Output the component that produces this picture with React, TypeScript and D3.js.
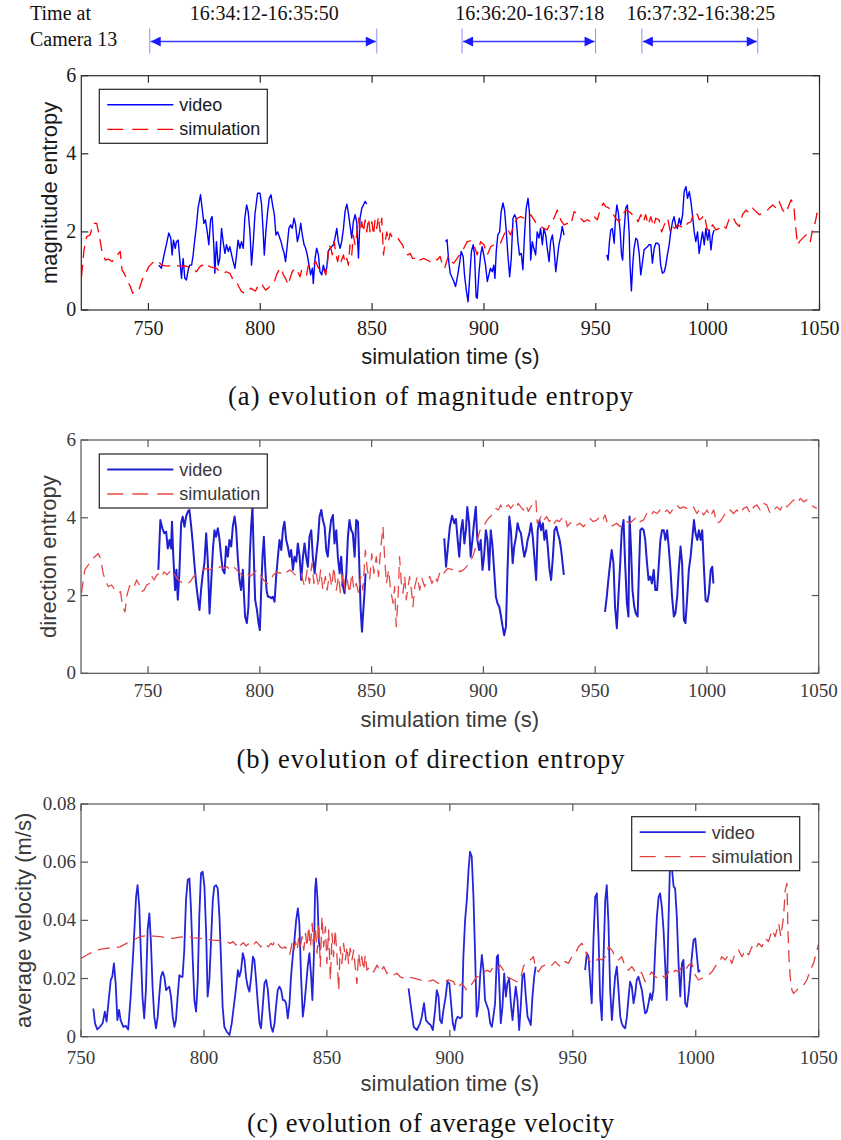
import * as d3 from 'd3';

type Pt = [number, number];

// ---- (a) magnitude entropy ----
const videoA1: Pt[] = [[754.6,1.15],[755.8,1.07],[757,1.41],[758,1.67],[759.1,1.97],[760,1.84],[760.6,1.41],[761.2,1.79],[762,1.58],[762.5,1.75],[763.3,1.79],[764,1.32],[764.8,0.81],[765.5,1.32],[766.3,0.81],[767,0.77],[767.8,1.03],[768.5,1.15],[769.3,1.15],[770,1.41],[770.7,1.79],[771.5,2.18],[772.2,2.61],[773.3,2.95],[774,2.61],[774.8,2.22],[775.5,2.31],[776.3,2.0],[777,1.67],[777.8,2.31],[778.5,2.39],[779.3,1.58],[779.7,0.94],[780.4,1.75],[781.2,1.15],[781.9,1.32],[782.7,2.09],[783.4,1.75],[784.2,1.45],[784.9,1.67],[785.7,1.5],[786.4,1.62],[787.2,1.41],[787.9,1.24],[788.7,1.07],[789.4,1.41],[790.1,1.79],[790.9,1.58],[791.6,1.75],[792.4,1.58],[793.1,2.35],[793.9,2.69],[794.6,2.52],[795.4,2.0],[796.1,1.15],[796.9,1.75],[797.6,2.44],[798.8,2.99],[799.9,2.99],[800.6,2.69],[801.3,2.0],[801.8,1.41],[802.5,2.0],[803.3,2.52],[804,2.86],[804.8,2.95],[805.5,2.69],[806.3,2.44],[807,1.92],[807.8,2.0],[808.5,1.88],[809.3,1.75],[810,1.58],[810.7,1.45],[811.3,1.24],[812.1,1.67],[812.8,2.09],[813.6,2.18],[814.3,2.09],[815.1,2.35],[815.8,2.18],[816.6,1.75],[817.3,1.92],[818.1,2.22],[818.8,1.92],[819.6,1.67],[820.3,1.58],[821,1.41],[821.8,1.15],[822.5,0.9],[823.3,1.07],[823.7,0.68],[824.5,1.32],[825.2,1.58],[826,1.41],[826.7,0.98],[827.5,0.9],[828.2,1.15],[829,0.98],[829.7,1.07],[830.4,1.5],[831.2,1.58],[831.9,1.62],[832.7,1.67],[833.4,1.84],[834.2,2.09],[834.9,1.75],[835.7,1.58],[836.4,1.75],[837.2,2.09],[837.9,2.52],[838.7,2.71],[839.4,2.48],[840.1,2.18],[840.9,1.84],[841.6,2.26],[842.4,2.44],[843.1,2.26],[843.9,1.33],[844.6,2.35],[845.4,2.61],[846.1,2.69],[846.9,2.78],[847.6,2.71]];
const videoA2: Pt[] = [[882.8,1.75],[883.5,1.8],[884.2,1.28],[884.9,0.94],[885.6,0.85],[886.4,0.75],[887.3,0.6],[888.3,0.9],[889.2,1.24],[889.8,1.5],[890.7,1.37],[891.3,0.9],[892.2,0.47],[892.9,0.21],[893.7,0.9],[894.4,1.5],[895.2,1.67],[895.8,1.41],[896.5,0.34],[897,0.3],[897.7,0.9],[898.5,1.41],[899.2,1.62],[899.9,1.41],[900.7,1.15],[901.5,0.73],[902.2,0.9],[902.9,1.07],[903.7,0.98],[904.4,1.15],[904.9,0.81],[905.5,1.5],[906.2,1.92],[907,2.0],[907.7,2.52],[908.5,2.74],[909.2,2.56],[910,2.0],[910.7,1.41],[911.5,0.85],[912.2,1.32],[913,2.35],[913.7,2.44],[914.4,2.35],[915.2,1.75],[915.9,1.41],[916.7,1.45],[917.4,1.03],[918.2,2.0],[918.9,2.61],[919.7,2.86],[920.3,2.52],[920.9,1.28],[921.6,1.75],[922.3,1.58],[923.1,1.41],[923.8,2.0],[924.6,1.84],[925.3,2.09],[926.1,1.67],[926.8,2.09],[927.6,1.92],[928.3,1.58],[929.1,1.24],[929.8,1.75],[930.6,1.92],[931.3,1.58],[932.1,0.98],[932.8,1.32],[933.5,1.67],[934.3,1.88],[935,2.14],[935.8,1.92]];
const videoA3: Pt[] = [[954.9,1.41],[955.5,1.28],[956.1,1.75],[956.7,2.05],[957.4,2.09],[958.2,1.71],[958.8,2.35],[959.4,2.69],[960.1,2.48],[960.9,2.0],[961.5,1.41],[962,1.28],[962.6,2.0],[963.4,2.61],[964.1,2.69],[964.9,2.0],[965.3,1.15],[965.9,0.49],[966.5,1.15],[967.1,1.58],[967.9,1.84],[968.6,1.79],[969.4,1.45],[970.1,0.9],[970.9,1.24],[971.6,1.54],[972.3,1.58],[973.1,1.62],[973.8,1.67],[974.6,1.67],[975.3,1.2],[976.1,1.58],[976.8,1.71],[977.6,1.71],[978.3,1.67],[979,1.15],[979.8,0.94],[980.6,0.98],[981.3,1.15],[982,1.41],[982.8,1.67],[983.5,2.0],[984.3,2.26],[985,2.39],[985.8,2.14],[986.5,2.09],[987.3,2.35],[988,2.18],[988.8,2.44],[989.5,3.03],[990.3,3.16],[991,2.86],[991.8,3.03],[992.5,2.78],[993.2,2.44],[994,2.0],[994.7,1.75],[995.5,2.0],[996.2,1.45],[997,1.75],[997.7,2.0],[998.5,1.67],[999.2,2.09],[1000,1.79],[1000.7,2.05],[1001.5,1.54],[1002.2,1.92],[1002.9,2.05]];
const simA: Pt[] = [[720.1,0.85],[721.2,1.54],[722.4,1.88],[723.9,1.92],[725.4,2.22],[726.9,2.22],[728.4,1.79],[729.2,1.5],[730.7,1.28],[732.2,1.3],[733.7,1.24],[735.2,1.32],[736.7,1.45],[737.4,1.5],[738.2,1.03],[739.2,0.94],[740.4,0.77],[741.9,0.6],[743,0.43],[744.2,0.51],[745.7,0.51],[747.2,0.77],[748.7,0.94],[750.2,1.11],[751.7,1.2],[753.2,1.26],[754.6,1.24],[755.8,1.15],[757.5,1.13],[759,1.13],[761,1.13],[763,1.13],[765,1.13],[767,1.12],[769.3,1.07],[771.5,0.98],[773,1.11],[774,1.15],[775.2,1.09],[776,1.15],[778,1.1],[780.4,1.07],[782,0.97],[783.4,0.94],[784.9,0.98],[786.4,0.94],[787.9,0.77],[789.4,0.73],[790.4,0.6],[791.6,0.47],[793.1,0.43],[794.6,0.47],[795.8,0.56],[796.9,0.51],[797.9,0.49],[799.1,0.64],[800.6,0.68],[801.3,0.6],[802.4,0.51],[803.6,0.56],[804.8,0.64],[806.3,0.73],[807.3,0.9],[808.4,1.03],[809.6,1.07],[810.3,0.9],[811.3,0.81],[812.5,0.64],[813.3,0.81],[814.3,0.98],[815.5,1.07],[816.7,0.98],[817.8,0.85],[818.5,1.03],[819.7,0.98],[820.7,0.9],[821.5,1.15],[822.7,1.07],[823.7,1.15],[824.8,1.24],[826,1.07],[827.2,1.15],[828.2,1.07],[829.3,0.9],[830.1,1.24],[830.7,1.67],[831.6,1.58],[832.2,1.41],[833.1,1.75],[833.7,1.45],[834.6,1.24],[835.2,1.41],[836.1,1.24],[837.2,1.41],[837.9,1.2],[838.7,1.32],[839.4,1.15],[840.1,1.67],[840.9,1.41],[841.6,1.92],[842.4,1.67],[843.1,1.92],[843.9,2.35],[844.6,2.0],[845.4,2.26],[846.1,2.0],[846.9,2.31],[847.6,2.0],[848.4,2.35],[849.1,2.0],[849.9,2.26],[850.6,1.92],[851.3,2.31],[852.1,2.09],[852.8,2.39],[853.6,2.0],[854.3,2.35],[855.1,1.41],[855.8,1.75],[856.6,2.0],[857.3,1.75],[858.1,1.97],[858.8,1.88],[859.6,1.92],[860.3,1.88],[861.5,1.84],[862.5,1.75],[863.6,1.67],[864.8,1.45],[866,1.41],[867,1.45],[868.1,1.32],[869.3,1.32],[870.4,1.37],[871.5,1.28],[873,1.32],[874.5,1.28],[876,1.24],[877.5,1.32],[879,1.28],[880.4,1.37],[881.5,1.15],[882.4,1.07],[884,1.37],[885,1.24],[886.5,1.2],[888,1.32],[889.5,1.45],[891,1.58],[892.5,1.75],[894,1.77],[895.5,1.67],[897,1.41],[898.5,1.75],[900,1.67],[901.5,1.41],[903,1.62],[904.4,1.67],[905.9,1.67],[907.4,1.71],[908.9,1.92],[910.4,2.09],[911.9,1.92],[913.4,2.18],[914.9,2.35],[916.4,2.39],[917.9,2.35],[919.4,2.31],[920.9,2.44],[922.4,2.31],[923.8,2.18],[925.3,2.14],[926.8,2.09],[928.3,2.05],[929.8,2.26],[931.3,2.35],[932.8,2.56],[934.3,2.31],[935.8,2.18],[937.3,2.22],[938.8,2.18],[940.3,2.52],[941.8,2.44],[943.2,2.35],[944.7,2.26],[946.2,2.31],[947.7,2.26],[949.2,2.39],[950.7,2.31],[952.2,2.61],[953.4,2.74],[954.4,2.65],[955.9,2.61],[957.4,2.48],[958.9,2.35],[960.4,2.26],[961.9,2.44],[963.4,2.56],[964.9,2.52],[966.4,2.44],[967.9,2.39],[968.9,2.26],[970.1,2.44],[971.3,2.26],[972.3,2.44],[973.4,2.18],[974.6,2.39],[975.8,2.14],[976.8,2.35],[978.3,2.31],[979.4,2.0],[980.6,2.18],[982.1,2.35],[983.3,2.0],[984.3,2.14],[985.3,2.09],[986.5,2.18],[988,2.14],[989.5,2.09],[991,2.22],[992.5,2.26],[994,2.52],[995.5,2.44],[996.2,2.31],[997.3,2.35],[998.5,2.44],[999.7,2.09],[1000.7,2.0],[1002.2,2.18],[1003.7,2.05],[1005.2,2.09],[1006.7,2.18],[1008.2,2.09],[1009.7,2.35],[1011.2,2.39],[1012.7,2.22],[1014.2,2.14],[1015.6,2.44],[1017.1,2.56],[1018.6,2.48],[1020.1,2.61],[1021.6,2.52],[1023.1,2.44],[1024.6,2.48],[1026.1,2.52],[1027.6,2.61],[1029.1,2.69],[1030.6,2.61],[1032,2.78],[1033.5,2.56],[1035,2.48],[1036.1,2.65],[1037.3,2.82],[1038.5,2.69],[1039.1,2.26],[1039.7,1.92],[1040.3,1.67],[1041,1.75],[1042.5,1.84],[1044,1.92],[1045,1.88],[1045.9,1.75],[1047,2.09],[1048,2.22],[1048.9,2.48],[1049.8,2.39]];

// ---- (b) direction entropy ----
const videoB1: Pt[] = [[754.6,2.66],[755.5,3.94],[756.4,3.73],[757.3,3.6],[758.1,3.64],[758.8,3.21],[759.6,3.43],[760.3,3.21],[760.7,3.9],[761.3,3.0],[762.1,2.14],[762.7,2.66],[763.3,1.89],[764,2.57],[764.8,3.86],[765.5,4.03],[766.3,3.77],[767,4.03],[767.8,4.16],[768.5,4.2],[769.3,3.77],[770,3.34],[770.7,2.83],[771.5,2.31],[772.2,1.97],[773,1.63],[773.7,2.14],[774.5,2.57],[775.2,2.83],[776,3.6],[776.7,2.91],[777.5,1.54],[778.2,2.31],[779,3.17],[779.7,3.68],[780.4,3.51],[781.2,3.73],[781.9,3.47],[782.7,3.0],[783.4,2.66],[784.2,2.57],[784.9,3.26],[785.7,3.0],[786.4,3.43],[787.2,3.26],[787.9,3.77],[788.7,4.03],[789.4,3.73],[790.1,3.0],[790.9,2.4],[791.6,2.14],[792.4,2.66],[792.8,2.14],[793.4,1.46],[794.2,1.29],[794.9,1.71],[795.5,3.0],[796.1,3.77],[796.7,4.28],[797.3,3.0],[797.9,1.89],[798.7,1.63],[799.4,1.29],[800,1.11],[800.6,2.14],[801.2,3.0],[801.8,3.51],[802.4,2.74],[803,2.14],[803.6,1.97],[804.3,1.97],[805.1,1.93],[805.8,1.97],[806.6,1.84],[807.3,2.49],[808.1,3.0],[808.8,3.43],[809.6,3.17],[810.3,3.68],[811,3.9],[811.8,3.43],[812.5,3.26],[813.3,3.0],[814,3.17],[814.8,2.66],[815.5,3.0],[816.3,2.87],[817,3.34],[817.8,3.0],[818.5,2.4],[819.3,3.0],[820,3.34],[820.7,3.0],[821.5,2.74],[822.2,3.51],[823,3.68],[823.7,3.0],[824.5,2.57],[825.2,3.0],[826,3.43],[826.7,4.03],[827.5,4.2],[828.2,3.94],[829,3.77],[829.7,3.17],[830.4,3.0],[831.2,3.6],[831.9,3.94],[832.7,4.07],[833.4,3.34],[834.2,3.68],[834.9,3.0],[835.7,2.57],[836.4,3.0],[837.2,2.23],[837.9,2.06],[838.7,2.57],[839.4,3.51],[840.1,3.94],[840.9,3.68],[841.6,3.6],[842.4,3.0],[843.1,3.94],[843.9,3.9],[844.6,2.57],[845.1,1.63],[845.7,1.07],[846.3,1.63],[846.9,2.14],[847.3,2.57]];
const videoB2: Pt[] = [[882.5,3.47],[883.3,2.74],[884,3.17],[885,3.77],[886,4.05],[887,3.86],[887.7,3.97],[888.5,3.43],[889.2,3.0],[890,3.68],[890.7,3.94],[891.5,3.34],[892.2,3.68],[892.8,4.28],[893.6,3.86],[894.3,3.0],[895.1,3.43],[895.8,3.86],[896.6,4.28],[897.3,3.43],[898.1,3.17],[898.8,3.43],[899.6,2.66],[900.3,3.0],[901.1,3.68],[901.8,3.43],[902.6,2.66],[903.3,3.68],[904.1,3.26],[904.8,2.66],[905.6,1.97],[906.3,1.8],[907.1,1.71],[907.8,1.5],[908.6,1.2],[909.3,0.98],[910.1,1.2],[910.8,2.66],[911.6,4.03],[912.3,3.68],[913.1,2.83],[913.8,3.26],[914.6,3.51],[915.3,3.86],[916.1,3.68],[916.8,3.6],[917.6,3.26],[918.3,3.0],[919.1,3.17],[919.8,3.43],[920.6,3.6],[921.3,3.86],[922.1,3.51],[922.8,3.0],[923.6,2.4],[924.3,3.68],[925.1,3.94],[925.8,3.68],[926.6,3.86],[927.3,3.43],[928.1,3.68],[928.8,3.26],[929.6,2.66],[930.3,2.4],[931.1,3.0],[931.8,3.68],[932.6,3.77],[933.3,3.6],[934.1,3.43],[934.8,3.17],[935.6,2.74],[936,2.53]];
const videoB3: Pt[] = [[954.4,1.58],[955.2,1.97],[955.9,2.4],[956.7,2.83],[957.4,3.17],[958.2,2.83],[958.9,1.71],[959.7,1.16],[960.4,1.97],[961.2,2.83],[961.9,3.68],[962.7,3.94],[963.4,2.83],[964.2,1.8],[964.9,1.46],[965.4,4.03],[966,3.26],[966.7,2.14],[967.5,1.71],[968.2,1.54],[969,1.46],[969.7,2.83],[970.2,3.68],[970.9,3.73],[971.7,3.68],[972.4,3.43],[973.2,2.83],[973.9,2.4],[974.7,2.49],[975.4,2.31],[976.2,2.66],[976.9,2.14],[977.7,2.14],[978.4,2.74],[979.2,3.43],[979.9,3.68],[980.7,3.68],[981.4,3.43],[982.2,3.68],[982.9,3.26],[983.7,2.66],[984.4,1.97],[985.2,1.46],[985.9,1.54],[986.7,1.97],[987.4,2.66],[988.2,3.26],[988.9,2.83],[989.7,1.37],[990.4,1.29],[991.2,1.97],[991.9,2.66],[992.7,3.0],[993.4,3.43],[994.2,3.94],[994.9,3.6],[995.7,3.43],[996.4,3.68],[997.2,3.43],[997.9,3.68],[998.7,2.66],[999.4,1.88],[1000.2,1.84],[1000.9,2.06],[1001.7,2.66],[1002.4,2.74],[1002.9,2.31]];
const simB: Pt[] = [[720.2,2.06],[721.7,2.66],[723.2,2.78],[724.7,2.91],[726.2,3.0],[727.7,3.08],[728.7,2.95],[729.9,2.57],[731.1,2.36],[732.2,2.23],[733.7,2.27],[735.2,2.14],[736.7,2.06],[737.7,2.1],[738.6,1.71],[739.7,1.58],[740.4,1.97],[741.6,2.23],[742.6,2.31],[743.7,2.23],[744.9,2.4],[746.1,2.27],[747.1,2.1],[748.2,2.14],[749.4,2.27],[750.6,2.31],[751.7,2.49],[752.7,2.4],[753.9,2.53],[755.1,2.57],[756.1,2.49],[757.2,2.61],[758.4,2.53],[759.6,2.61],[760.6,2.66],[761.7,2.57],[762.9,2.44],[764.4,2.36],[765.9,2.31],[767.4,2.29],[768.9,2.36],[770.4,2.49],[771.9,2.57],[773.3,2.61],[774.8,2.66],[776.3,2.7],[777.8,2.66],[779.3,2.74],[780.8,2.7],[782.3,2.74],[783.8,2.7],[785.3,2.74],[786.8,2.66],[788.2,2.74],[789.7,2.66],[791.2,2.57],[792.7,2.49],[794.2,2.57],[795.7,2.49],[797.2,2.57],[798.7,2.66],[800.2,2.53],[801.7,2.4],[803.2,2.31],[804.7,2.4],[806.1,2.53],[807.6,2.61],[809.1,2.57],[810.6,2.66],[812.1,2.61],[813.6,2.66],[815.1,2.57],[816.6,2.49],[818.5,2.57],[820,2.23],[821.2,2.66],[822.2,2.31],[823.3,2.83],[824.2,2.31],[825.2,2.57],[826.3,2.23],[827.2,2.66],[828.2,2.14],[829.3,2.49],[830.1,2.14],[831.2,2.57],[832.2,2.23],[833.1,2.74],[834.2,2.14],[835.2,2.49],[836.1,2.06],[837.2,2.57],[838.2,2.14],[839.1,2.4],[840.1,2.06],[841.2,2.57],[842.1,2.14],[843.1,2.31],[844.2,2.06],[845.1,2.49],[846.1,2.14],[847.2,3.17],[848.1,2.66],[849.1,2.4],[850.1,3.08],[851,2.57],[852.1,3.0],[853.1,2.49],[854,3.17],[855.1,3.77],[855.8,3.0],[856.6,2.31],[857.6,2.66],[858.5,2.14],[859.6,1.8],[860.3,2.23],[861,1.2],[861.8,1.89],[862.5,3.0],[863.3,2.31],[864,2.06],[864.8,2.49],[865.5,1.89],[866.3,2.23],[867,2.49],[867.8,2.14],[868.5,1.71],[869.3,2.23],[870.4,2.49],[871.5,2.14],[872.5,2.44],[873.7,2.23],[874.9,2.4],[876,2.49],[877,2.31],[878.2,2.49],[879.4,2.36],[880.4,2.57],[881.5,2.49],[882.7,2.61],[884.2,2.7],[886.5,2.66],[888,2.7],[889.5,2.61],[891,2.66],[892.5,2.74],[894,2.87],[895.2,3.0],[896.2,3.17],[897.3,3.43],[898.5,3.68],[900,3.77],[901.2,3.9],[902.2,3.98],[903.2,4.03],[904.4,4.11],[905.6,4.24],[906.7,4.2],[907.7,4.33],[908.9,4.2],[910.1,4.28],[911.2,4.33],[912.2,4.24],[913.4,4.33],[914.6,4.24],[915.6,4.37],[916.7,4.28],[917.9,4.2],[919.1,4.33],[920.1,4.16],[921.2,4.28],[922.4,4.37],[923.5,4.46],[924.1,3.86],[925,3.94],[926.1,4.07],[927.1,3.94],[928.3,4.03],[929.5,3.9],[930.6,3.98],[931.6,3.86],[932.8,3.94],[934,3.9],[935,3.98],[936.5,4.03],[937.6,3.77],[938.8,3.86],[940.3,3.9],[941.8,3.81],[943.2,3.86],[944.7,3.77],[946.2,3.86],[947.7,3.98],[949.2,3.9],[950.7,3.94],[952.2,4.03],[953.4,3.94],[954.4,4.07],[955.5,3.86],[956.7,3.77],[958.2,3.81],[959.7,3.86],[961.2,3.77],[962.6,3.86],[964.1,3.9],[965.6,3.86],[967.1,3.94],[968.6,4.03],[970.1,3.9],[971.6,3.94],[973.1,4.11],[974.6,4.03],[976.1,4.16],[977.6,4.11],[979.1,4.2],[980.6,4.11],[982.1,4.2],[983.5,4.11],[985,4.24],[986.5,4.33],[988,4.24],[989.5,4.28],[991,4.24],[992.5,4.2],[994,4.28],[995.5,4.11],[997,4.24],[998.5,4.07],[1000,4.2],[1001.5,4.03],[1003,4.2],[1004.4,3.86],[1005.9,3.9],[1007.4,4.03],[1008.9,4.2],[1010.4,4.2],[1011.9,4.11],[1013.4,4.2],[1014.9,4.11],[1016.4,4.24],[1017.9,4.28],[1019.4,4.11],[1020.9,4.28],[1022.4,4.33],[1023.8,4.2],[1025.3,4.37],[1026.8,4.33],[1028.3,4.11],[1029.8,4.2],[1031.3,4.28],[1032.8,4.2],[1034.3,4.37],[1035.8,4.28],[1037.3,4.37],[1038.8,4.46],[1040.3,4.37],[1041.8,4.5],[1043.3,4.41],[1044.7,4.46],[1046.2,4.37],[1047.7,4.28],[1049.2,4.24]];

// ---- (c) average velocity ----
const videoC1: Pt[] = [[755,0.0097],[755.7,0.0046],[756.6,0.0025],[757.7,0.0034],[758.8,0.0046],[759.7,0.0086],[760.4,0.0052],[761.4,0.0138],[762.1,0.0195],[762.7,0.0206],[763.4,0.0252],[764.1,0.0183],[764.8,0.0057],[765.5,0.0092],[766.1,0.0057],[767.2,0.0034],[768.3,0.0037],[769.2,0.0025],[770.2,0.0138],[771.3,0.0298],[772.4,0.0481],[773,0.0521],[773.7,0.0447],[774.4,0.0275],[775,0.0138],[775.7,0.0063],[776.4,0.016],[777.1,0.0367],[777.8,0.0424],[778.4,0.0332],[779.1,0.0172],[779.8,0.0069],[780.5,0.0029],[781.2,0.0069],[781.8,0.0138],[782.5,0.0206],[783.2,0.0223],[783.9,0.0206],[784.6,0.016],[785.2,0.0166],[785.9,0.0172],[786.6,0.0138],[787.3,0.0069],[788,0.0034],[788.6,0.0057],[789.3,0.0138],[790,0.0212],[790.7,0.0206],[791.3,0.0206],[792,0.0298],[792.7,0.047],[793.4,0.0539],[794.1,0.0544],[794.7,0.0447],[795.4,0.0275],[796.1,0.0126],[796.8,0.0086],[797.5,0.0195],[798.1,0.0413],[798.8,0.0562],[799.5,0.0567],[800.2,0.0516],[800.9,0.0355],[801.5,0.0138],[802.2,0.0195],[802.9,0.0332],[803.6,0.047],[804.2,0.0516],[804.9,0.0521],[805.6,0.051],[806.3,0.0413],[807,0.0252],[807.6,0.0103],[808.3,0.0034],[809.3,0.0017],[810.4,0.0006],[811.3,0.0046],[812.3,0.0115],[813.1,0.0172],[813.8,0.0229],[814.4,0.0206],[815.1,0.0229],[815.8,0.0287],[816.5,0.0264],[817.1,0.0206],[817.8,0.0172],[818.5,0.0155],[819.2,0.0206],[819.9,0.0275],[820.5,0.0264],[821.2,0.0195],[821.9,0.0115],[822.6,0.0046],[823.2,0.0029],[823.9,0.0103],[824.6,0.0183],[825.3,0.0195],[826,0.016],[826.6,0.0092],[827.3,0.0034],[828,0.0017],[828.7,0.0046],[829.3,0.0103],[830,0.016],[830.7,0.0172],[831.4,0.016],[832.1,0.0126],[832.7,0.0126],[833.4,0.0115],[834.1,0.0063],[834.8,0.0115],[835.4,0.0206],[836.1,0.0275],[836.8,0.0332],[837.5,0.0401],[838.2,0.0441],[838.8,0.039],[839.5,0.0206],[840.2,0.0069],[840.9,0.0115],[841.6,0.0183],[842.2,0.0241],[842.9,0.0287],[843.6,0.0206],[844.1,0.0126],[844.7,0.0275],[845.2,0.0504],[845.6,0.0544],[846.2,0.047],[846.7,0.0332],[847.2,0.0298]];
const videoC2: Pt[] = [[883.2,0.0166],[884,0.0115],[885.3,0.0034],[886.6,0.0023],[887.9,0.0046],[888.6,0.0069],[889.5,0.0115],[890.3,0.0057],[891.3,0.0046],[892.2,0.004],[893.1,0.0023],[894,0.0092],[894.7,0.016],[895.4,0.0138],[896,0.0057],[896.7,0.0046],[897.4,0.0092],[898.3,0.0138],[899,0.0189],[899.8,0.0183],[900.5,0.0115],[901.2,0.0046],[901.9,0.0023],[902.5,0.0057],[903.2,0.0069],[904.2,0.0063],[904.9,0.0069],[905.5,0.0275],[906.2,0.0401],[906.9,0.047],[907.6,0.0573],[908.2,0.0636],[908.9,0.0619],[909.6,0.0481],[910.3,0.0275],[910.9,0.0069],[911.6,0.0103],[912.3,0.0206],[913,0.0281],[913.7,0.0229],[914.3,0.0126],[915,0.0109],[915.7,0.0092],[916.4,0.0046],[917.1,0.0034],[917.7,0.0069],[918.4,0.0115],[919.1,0.0275],[919.6,0.0281],[920.2,0.016],[920.7,0.0046],[921.4,0.0103],[922.1,0.0218],[922.8,0.0138],[923.4,0.0183],[924.1,0.0201],[924.8,0.0115],[925.5,0.0057],[926.1,0.0115],[926.8,0.0172],[927.5,0.0126],[928.2,0.0023],[928.9,0.0115],[929.5,0.0206],[930.2,0.0218],[930.9,0.0138],[931.6,0.0069],[932.2,0.0057],[932.9,0.004],[933.6,0.0138],[934.3,0.0206],[934.9,0.0241]];
const videoC3: Pt[] = [[955,0.0229],[955.7,0.0287],[956.4,0.0275],[957.1,0.0183],[957.7,0.0115],[958.4,0.0332],[959.1,0.0481],[959.8,0.0493],[960.5,0.0332],[961.1,0.0138],[961.8,0.0057],[962.5,0.0275],[963.2,0.047],[963.8,0.0521],[964.5,0.039],[965.2,0.016],[965.9,0.0057],[966.6,0.0138],[967.2,0.0206],[967.9,0.0241],[968.6,0.016],[969.3,0.0069],[969.9,0.0046],[970.6,0.0034],[971.3,0.0029],[972,0.0069],[972.7,0.0138],[973.3,0.0189],[974,0.0172],[974.7,0.0115],[975.4,0.0149],[976,0.0195],[976.7,0.0206],[977.4,0.0183],[978.1,0.016],[978.8,0.0115],[979.4,0.008],[980.1,0.0086],[980.8,0.0115],[981.5,0.0149],[982.1,0.0126],[982.8,0.016],[983.5,0.0298],[984.2,0.0413],[984.9,0.0481],[985.5,0.0493],[986.2,0.0447],[986.9,0.0367],[987.6,0.0241],[988.2,0.0126],[988.9,0.039],[989.6,0.062],[990.3,0.058],[991,0.0516],[991.6,0.051],[992.3,0.0413],[993,0.0252],[993.7,0.0138],[994.4,0.0252],[995,0.0264],[995.7,0.0115],[996.4,0.0103],[997.1,0.0149],[997.7,0.0206],[998.4,0.0275],[999.1,0.0332],[999.8,0.0338],[1000.5,0.0275],[1001.1,0.0223],[1001.8,0.0229]];
const simC: Pt[] = [[750,0.0269],[752.3,0.0281],[755,0.0292],[757.7,0.03],[760.4,0.0304],[763.1,0.0305],[765.8,0.0309],[768.5,0.0321],[771.3,0.0332],[774,0.0344],[776.7,0.0347],[779.4,0.0346],[782.1,0.0344],[784.8,0.034],[787.5,0.0338],[790.2,0.0342],[793,0.0344],[795.7,0.034],[798.4,0.0338],[801.1,0.0335],[803.8,0.0332],[806.5,0.033],[809.2,0.0327],[810.6,0.0321],[811.9,0.0327],[813,0.0315],[814,0.0327],[814.9,0.0315],[816,0.0323],[817.1,0.0312],[818.1,0.0319],[819,0.0309],[820.1,0.0315],[821.2,0.0327],[822.1,0.0319],[823.1,0.0309],[824.2,0.0321],[825.3,0.0315],[826.2,0.0309],[827.2,0.0321],[828,0.0315],[829,0.0332],[830,0.0321],[831,0.0309],[832.1,0.0304],[833.1,0.0309],[834,0.0292],[834.9,0.0281],[835.8,0.0321],[836.5,0.0298],[837.2,0.0327],[837.9,0.0298],[838.5,0.0338],[839.2,0.0309],[839.9,0.0344],[840.6,0.0298],[841.3,0.0355],[841.9,0.0309],[842.6,0.0378],[843.3,0.0309],[844,0.039],[844.6,0.0298],[845.3,0.0378],[846,0.0287],[846.7,0.039],[847.3,0.0241],[848,0.0413],[848.7,0.0309],[849.4,0.0378],[850,0.0252],[850.7,0.0367],[851.4,0.0195],[852.1,0.0355],[852.7,0.0275],[853.4,0.0367],[854.1,0.0275],[854.8,0.016],[855.4,0.0309],[856.1,0.0252],[856.8,0.0321],[857.5,0.0264],[858.2,0.0309],[858.8,0.0252],[859.5,0.0304],[860.2,0.0264],[860.9,0.0298],[861.5,0.0241],[862.2,0.0183],[862.9,0.0287],[863.6,0.0241],[864.2,0.0275],[864.9,0.0229],[865.6,0.0281],[866.3,0.0229],[867.6,0.0241],[869,0.0223],[870.4,0.0246],[871.7,0.0223],[873.1,0.0241],[874.4,0.0218],[875.8,0.0223],[877.1,0.0212],[878.5,0.0218],[879.8,0.0206],[881.2,0.0201],[882.5,0.0206],[885.3,0.0201],[887.9,0.0195],[890.6,0.0189],[893.3,0.0195],[895.4,0.0183],[897.4,0.0189],[899.4,0.0195],[901.5,0.0189],[902.8,0.0166],[904.9,0.0183],[906.9,0.016],[908.2,0.0172],[909.6,0.0189],[910.9,0.0206],[912.3,0.0206],[913.7,0.0218],[915,0.0229],[916.4,0.0223],[917.7,0.0241],[919.1,0.0229],[920.4,0.0246],[921.8,0.0229],[923.2,0.0206],[924.5,0.0201],[925.9,0.0195],[927.2,0.0189],[928.6,0.0195],[929.9,0.0241],[931.3,0.0258],[932.7,0.0264],[934,0.0275],[934.7,0.0241],[936,0.0223],[937.4,0.0241],[938.8,0.0246],[940.1,0.0252],[941.5,0.0246],[942.8,0.0258],[944.2,0.0246],[945.5,0.0241],[946.9,0.0258],[948.2,0.0252],[949.6,0.0275],[951,0.0287],[952.3,0.0309],[953.7,0.0321],[955,0.0298],[956.4,0.0264],[957.7,0.0252],[959.1,0.0258],[960.5,0.0269],[961.8,0.0264],[963.2,0.0275],[964.5,0.0309],[965.9,0.0298],[967.2,0.0275],[968.6,0.0264],[969.9,0.0275],[971.3,0.0241],[972.7,0.0229],[974,0.0241],[975.4,0.0223],[976.7,0.0229],[978.1,0.0218],[979.4,0.0189],[980.8,0.0206],[982.1,0.0223],[983.5,0.0206],[984.9,0.0201],[986.2,0.0212],[987.6,0.0201],[988.9,0.0223],[990.3,0.0212],[991.6,0.0229],[993,0.0223],[994.4,0.0241],[995.7,0.0229],[997.1,0.0246],[998.4,0.0252],[999.8,0.0212],[1001.1,0.0195],[1002.5,0.0201],[1003.9,0.0206],[1005.2,0.0212],[1006.6,0.0223],[1007.9,0.0241],[1009.3,0.0252],[1010.6,0.0275],[1012,0.0264],[1013.3,0.0281],[1014.7,0.0252],[1016,0.0287],[1017.4,0.0298],[1018.8,0.0275],[1020.1,0.0298],[1021.5,0.0281],[1022.8,0.0309],[1024.2,0.0298],[1025.5,0.0321],[1026.9,0.0309],[1028.3,0.0338],[1029.6,0.0327],[1031,0.0367],[1032.3,0.0344],[1033.7,0.039],[1034.6,0.0344],[1035.7,0.0413],[1036.4,0.0504],[1037.1,0.0527],[1037.5,0.0367],[1037.9,0.0275],[1038.4,0.0206],[1039.1,0.016],[1039.8,0.0149],[1041.1,0.016],[1042.5,0.0172],[1043.9,0.0178],[1045.2,0.0195],[1046.6,0.0229],[1047.9,0.0252],[1049.3,0.0298],[1050,0.0321]];

// ---- ticks and header ----
const X_TICKS = [750, 800, 850, 900, 950, 1000, 1050];
const ENTROPY_TICKS = [0, 2, 4, 6];
const VELOCITY_TICKS = [0, 0.02, 0.04, 0.06, 0.08];
const VELOCITY_TICK_LABELS = ['0', '0.02', '0.04', '0.06', '0.08'];
const WINDOW_START = [750.6, 890.2, 970.6];
const WINDOW_END = [852.1, 949.9, 1022.4];
const WINDOW_LABELS = ['16:34:12-16:35:50', '16:36:20-16:37:18', '16:37:32-16:38:25'];
const SERIES_NAMES = ['video', 'simulation'];

const SERIF = '"Liberation Serif", "Times New Roman", serif';
const SANS = '"Liberation Sans", Arial, Helvetica, sans-serif';

interface PanelProps {
  id: string;
  left: number; right: number; top: number; bottom: number;
  xDomain: [number, number];
  yDomain: [number, number];
  yTicks: number[];
  yTickLabels: string[];
  video: Pt[][];
  sim: Pt[];
  yLabel: string;
  yLabelX: number;
  caption: string;
  captionWidth: number;
  legend: { x: number; y: number };
  ink: string;
  box: string;
  blue: string;
  red: string;
  blueWidth: number;
  tickFont: number;
  xTickDy: number;
}

function Panel(p: PanelProps) {
  const x = d3.scaleLinear().domain(p.xDomain).range([p.left, p.right]);
  const y = d3.scaleLinear().domain(p.yDomain).range([p.bottom, p.top]);
  const line = d3.line<Pt>().x(d => x(d[0])).y(d => y(d[1]));
  const tl = 7;
  const xt = X_TICKS.filter(t => t >= p.xDomain[0] && t <= p.xDomain[1]);
  const lw = 168, lh = 54;
  const lx = p.legend.x, ly = p.legend.y;

  return (
    <g>
      <defs>
        <clipPath id={`clip-${p.id}`}>
          <rect x={p.left} y={p.top} width={p.right - p.left} height={p.bottom - p.top} />
        </clipPath>
      </defs>
      <g clipPath={`url(#clip-${p.id})`} fill="none" strokeLinejoin="round">
        {p.video.map((seg, i) => (
          <path key={i} d={line(seg) ?? ''} stroke={p.blue} strokeWidth={p.blueWidth} />
        ))}
        <path d={line(p.sim) ?? ''} stroke={p.red} strokeWidth={1.3} strokeDasharray="12 7" />
      </g>

      {/* box with inward ticks on all four sides */}
      <rect x={p.left} y={p.top} width={p.right - p.left} height={p.bottom - p.top}
        fill="none" stroke={p.box} strokeWidth={1.2} />
      {xt.map(t => (
        <g key={t} stroke={p.box} strokeWidth={1.2}>
          <line x1={x(t)} x2={x(t)} y1={p.bottom} y2={p.bottom - tl} />
          <line x1={x(t)} x2={x(t)} y1={p.top} y2={p.top + tl} />
        </g>
      ))}
      {p.yTicks.map(t => (
        <g key={t} stroke={p.box} strokeWidth={1.2}>
          <line x1={p.left} x2={p.left + tl} y1={y(t)} y2={y(t)} />
          <line x1={p.right} x2={p.right - tl} y1={y(t)} y2={y(t)} />
        </g>
      ))}

      <g fontFamily={SERIF} fontSize={p.tickFont} fill={p.ink}>
        {xt.map(t => (
          <text key={t} x={x(t)} y={p.bottom + p.xTickDy} textAnchor="middle">{t}</text>
        ))}
        {p.yTicks.map((t, i) => (
          <text key={t} x={p.left - 5} y={y(t) + 6} textAnchor="end">{p.yTickLabels[i]}</text>
        ))}
      </g>

      <g fontFamily={SANS} fontSize={22} fill={p.ink}>
        <text x={(p.left + p.right) / 2} y={p.bottom + 54} textAnchor="middle">simulation time (s)</text>
        <text transform={`translate(${p.yLabelX},${(p.top + p.bottom) / 2}) rotate(-90)`} textAnchor="middle">{p.yLabel}</text>
      </g>

      <text x={430.5 - p.captionWidth / 2} y={p.bottom + 95} fontFamily={SERIF} fontSize={26.5} fill="#111"
        textLength={p.captionWidth} lengthAdjust="spacing">{p.caption}</text>

      {/* legend */}
      <rect x={lx} y={ly} width={lw} height={lh} fill="#fff" stroke="#222" strokeWidth={1.2} />
      <line x1={lx + 8} x2={lx + 74} y1={ly + 15.5} y2={ly + 15.5} stroke={p.blue} strokeWidth={p.blueWidth} />
      <line x1={lx + 8} x2={lx + 74} y1={ly + 40} y2={ly + 40} stroke={p.red} strokeWidth={1.3} strokeDasharray="16 9" />
      <g fontFamily={SANS} fontSize={18} fill={p.ink}>
        <text x={lx + 80} y={ly + 22}>{SERIES_NAMES[0]}</text>
        <text x={lx + 80} y={ly + 46}>{SERIES_NAMES[1]}</text>
      </g>
    </g>
  );
}

function Header() {
  // shares the time axis of panel (a)
  const x = d3.scaleLinear().domain([720, 1050]).range([81.3, 819.5]);
  return (
    <g>
      <defs>
        <marker id="arrowEnd" viewBox="0 0 10 10" refX={10} refY={5} markerWidth={11} markerHeight={10}
          markerUnits="userSpaceOnUse" orient="auto">
          <path d="M0,0 L10,5 L0,10 z" fill="#1a1aff" />
        </marker>
        <marker id="arrowStart" viewBox="0 0 10 10" refX={0} refY={5} markerWidth={11} markerHeight={10}
          markerUnits="userSpaceOnUse" orient="auto">
          <path d="M10,0 L0,5 L10,10 z" fill="#1a1aff" />
        </marker>
      </defs>
      <g fontFamily={SERIF} fontSize={20} fill="#111">
        <text x={30} y={20}>Time at</text>
        <text x={30} y={46}>Camera 13</text>
        {WINDOW_LABELS.map((lab, i) => (
          <text key={lab} x={(x(WINDOW_START[i]) + x(WINDOW_END[i])) / 2 + 1} y={20} textAnchor="middle">{lab}</text>
        ))}
      </g>
      {WINDOW_LABELS.map((lab, i) => {
        const x0 = x(WINDOW_START[i]);
        const x1 = x(WINDOW_END[i]);
        return (
          <g key={lab}>
            <line x1={x0} x2={x0} y1={28.5} y2={53.5} stroke="#8c8cff" strokeWidth={1} />
            <line x1={x1} x2={x1} y1={28.5} y2={53.5} stroke="#8c8cff" strokeWidth={1} />
            <line x1={x0 + 1} x2={x1 - 1} y1={41.5} y2={41.5} stroke="#3a3aff" strokeWidth={1.3}
              markerStart="url(#arrowStart)" markerEnd="url(#arrowEnd)" />
          </g>
        );
      })}
    </g>
  );
}

export default function App() {
  return (
    <svg width={841} height={1140} style={{ position: 'absolute', left: 0, top: 0, background: '#fff' }}>
      <rect width={841} height={1140} fill="#fff" />
      <Header />
      <Panel id="a" left={81.3} right={819.5} top={75.7} bottom={310}
        xDomain={[720, 1050]} yDomain={[0, 6]}
        yTicks={ENTROPY_TICKS} yTickLabels={ENTROPY_TICKS.map(String)}
        video={[videoA1, videoA2, videoA3]} sim={simA}
        yLabel="magnitude entropy" yLabelX={57}
        caption="(a) evolution of magnitude entropy" captionWidth={405}
        legend={{ x: 99.3, y: 89.3 }}
        ink="#1a1a1a" box="#2a2a2a" blue="#0000ff" red="#ff0000" blueWidth={1.4}
        tickFont={20} xTickDy={25} />
      <Panel id="b" left={81} right={818.7} top={440} bottom={673.3}
        xDomain={[720, 1050]} yDomain={[0, 6]}
        yTicks={ENTROPY_TICKS} yTickLabels={ENTROPY_TICKS.map(String)}
        video={[videoB1, videoB2, videoB3]} sim={simB}
        yLabel="direction entropy" yLabelX={56}
        caption="(b) evolution of direction entropy" captionWidth={388}
        legend={{ x: 99.3, y: 454 }}
        ink="#3a3a3a" box="#555" blue="#1f1fd0" red="#e84848" blueWidth={2}
        tickFont={19} xTickDy={24} />
      <Panel id="c" left={81} right={818.7} top={804} bottom={1036.7}
        xDomain={[750, 1050]} yDomain={[0, 0.08]}
        yTicks={VELOCITY_TICKS} yTickLabels={VELOCITY_TICK_LABELS}
        video={[videoC1, videoC2, videoC3]} sim={simC}
        yLabel="average velocity (m/s)" yLabelX={31}
        caption="(c) evolution of average velocity" captionWidth={367}
        legend={{ x: 631.7, y: 816.7 }}
        ink="#3a3a3a" box="#555" blue="#2424dc" red="#e04040" blueWidth={1.8}
        tickFont={19} xTickDy={27} />
    </svg>
  );
}
